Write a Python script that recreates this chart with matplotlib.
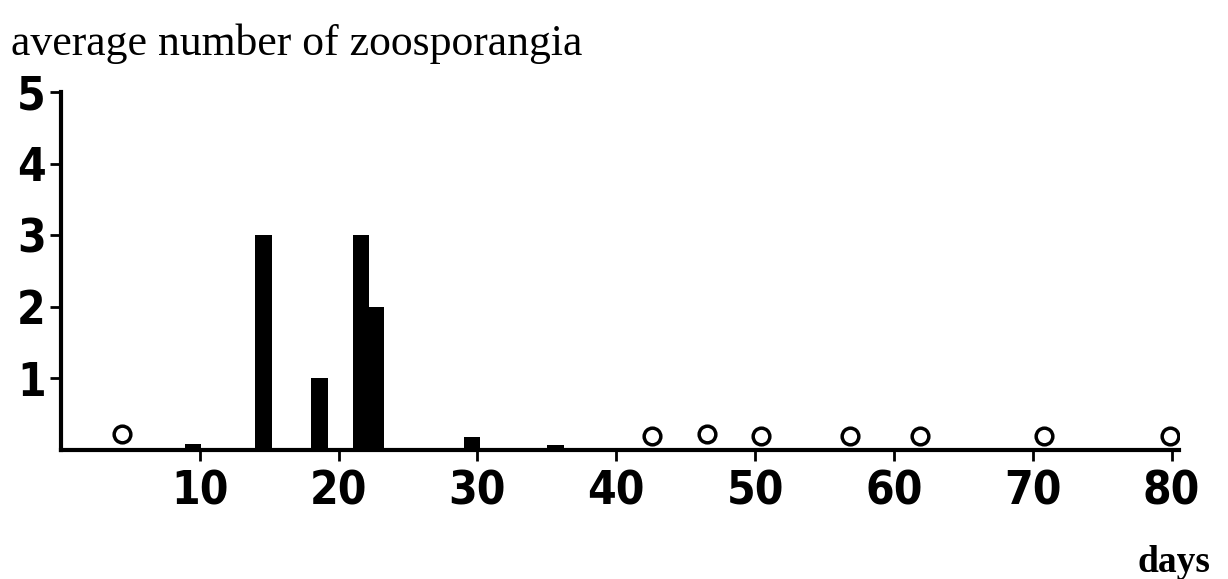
import matplotlib
matplotlib.use('Agg')
import matplotlib.pyplot as plt

# data
bar_days = [9.5, 14.6, 18.6, 21.6, 22.7, 29.6, 35.6]
bar_values = [0.08, 3.0, 1.0, 3.0, 2.0, 0.18, 0.07]
zero_days = [4.4, 42.6, 46.5, 50.4, 56.8, 61.9, 70.8, 79.9]
zero_values = [0.22, 0.2, 0.22, 0.2, 0.2, 0.2, 0.2, 0.2]
x_ticks = [10, 20, 30, 40, 50, 60, 70, 80]
y_ticks = [1, 2, 3, 4, 5]

fig = plt.figure(figsize=(12.28, 5.79), dpi=100)
ax = fig.add_axes([0.0497, 0.2228, 0.910, 0.618])

ax.bar(bar_days, bar_values, width=1.2, color='black', zorder=3)
ax.plot(zero_days, zero_values, 'o', ms=12, mfc='white', mec='black', mew=2.5, zorder=3)

ax.set_xlim(0, 80.5)
ax.set_ylim(0, 5)
ax.set_xticks(x_ticks)
ax.set_yticks(y_ticks)

for s in ['top', 'right']:
    ax.spines[s].set_visible(False)
for s in ['left', 'bottom']:
    ax.spines[s].set_linewidth(3)

ax.tick_params(axis='both', direction='out', length=8, width=2, labelsize=33)
ax.tick_params(axis='x', pad=6)
ax.tick_params(axis='y', pad=3)
for lab in ax.get_xticklabels() + ax.get_yticklabels():
    lab.set_fontweight('bold')
    lab.set_family('DejaVu Sans')
    lab.set_fontstretch('condensed')

fig.text(0.009, 0.925, 'average number of zoosporangia', family='Liberation Serif',
         fontsize=31.5, ha='left', va='center')
fig.text(0.986, 0.028, 'days', family='Liberation Serif', fontweight='bold',
         fontsize=27, ha='right', va='center')

fig.savefig('out.png', dpi=100)
